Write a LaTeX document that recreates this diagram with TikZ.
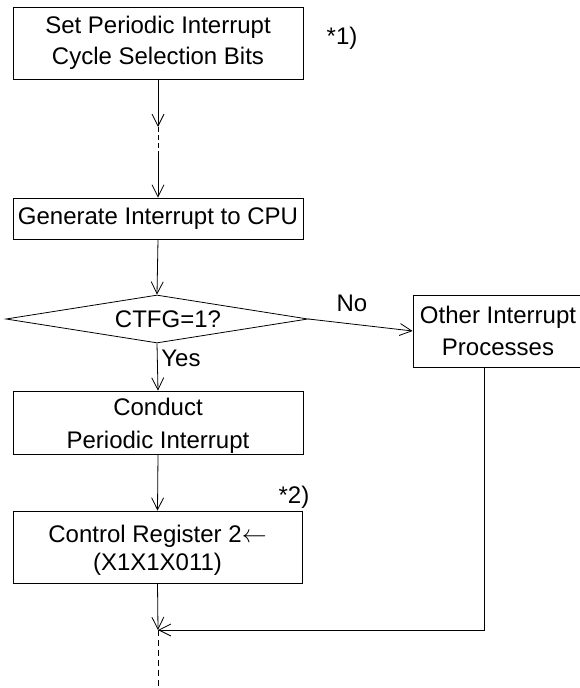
\documentclass[tikz,border=0pt]{standalone}
\usepackage{fontspec}
\setmainfont{Liberation Sans}
\usetikzlibrary{shapes.geometric,arrows.meta}
\begin{document}
\begin{tikzpicture}[x=1pt,y=-1pt,
  font=\fontsize{24}{31}\selectfont,
  every path/.style={line width=0.8pt},
  box/.style={draw, line width=0.8pt, inner sep=0pt, align=center},
  arr/.style={-{Straight Barb[length=12pt,width=12pt,line width=0.8pt]}},
  plain/.style={inner sep=0pt}]
\useasboundingbox (0,0) rectangle (579,688);
\node[box, minimum width=290pt, minimum height=72pt] (set) at (158,43) {Set Periodic Interrupt\\Cycle Selection Bits};
\node[plain] (n1) at (342,38) {*1)};
\coordinate (g1) at (158,127);
\coordinate (g2) at (158,153);
\node[box, minimum width=290pt, minimum height=41pt] (gen) at (158,218.5) {Generate Interrupt to CPU};
\node[draw, diamond, shape aspect=6.3, minimum width=302pt, minimum height=48pt, inner sep=0pt] (dia) at (157,319) {};
\node[plain] (q) at (168,319) {CTFG=1?};
\node[box, minimum width=170pt, minimum height=72pt, font=\fontsize{24}{32}\selectfont] (oth) at (498,331) {Other Interrupt\\Processes};
\node[box, minimum width=290pt, minimum height=63pt] (con) at (158,422.5) {};
\node[plain, align=center, font=\fontsize{24}{33}\selectfont] (cont) at (158,426) {Conduct\\Periodic Interrupt};
\node[plain] (n2) at (294,497) {*2)};
\node[box, minimum width=289pt, minimum height=72pt] (ctl) at (157.5,547) {};
\node[plain, align=center, font=\fontsize{24}{28}\selectfont] (ctlt) at (157.5,550) {Control Register 2$\leftarrow$\\(X1X1X011)};
\coordinate (m) at (158,630);
\coordinate (end) at (158,688);
\node[plain] (no) at (352,303) {No};
\node[plain] (yes) at (181,358) {Yes};

\draw[arr] (set.south) -- (g1);
\draw[dash pattern=on 5pt off 3pt] (g1) -- (g2);
\draw[arr] (g2) -- (gen.north);
\draw[arr] (gen.south) -- (dia.north);
\draw[arr] (dia.south) -- (con.north);
\draw[arr] (dia.east) -- (oth.west);
\draw[arr] (con.south) -- (ctl.north);
\draw[arr] (ctl.south) -- (m);
\draw[arr] ([xshift=72pt]oth.south west) |- (m);
\draw[dash pattern=on 6pt off 4pt] (m) -- (end);
\end{tikzpicture}
\end{document}
